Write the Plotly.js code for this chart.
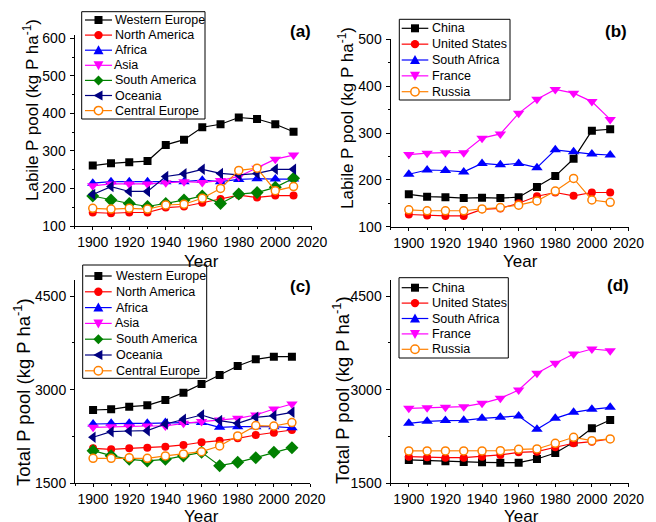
<!DOCTYPE html>
<html><head><meta charset="utf-8">
<script src="https://cdn.plot.ly/plotly-3.0.1.min.js"></script>
<style>html,body{margin:0;padding:0;background:#fff}#chart{width:656px;height:522px}</style>
</head><body><div id="chart"></div><script>
// ---------- DATA ----------
const years = [1900,1910,1920,1930,1940,1950,1960,1970,1980,1990,2000,2010];

const regionNames = ['Western Europe','North America','Africa','Asia','South America','Oceania','Central Europe'];
const countryNames = ['China','United States','South Africa','France','Russia'];

// (a) Labile P pool by region
const labileWesternEurope = [261,267,270,273,316,330,363,371,389,385,371,351];
const labileNorthAmerica  = [136,134,136,136,149,152,162,172,182,176,181,181];
const labileAfrica        = [214,218,218,218,218,218,222,218,224,226,225,225];
const labileAsia          = [207,212,212,212,215,218,216,221,232,254,278,289];
const labileSouthAmerica  = [180,169,160,152,160,169,180,160,185,189,203,227];
const labileOceania       = [184,205,192,192,232,239,251,240,236,240,251,251];
const labileCentralEurope = [147,145,147,145,156,158,174,200,248,254,194,205];

// (b) Labile P pool by country
const labileChina        = [169,164,163,161,162,161,163,185,208,245,305,308];
const labileUnitedStates = [126,124,123,123,137,139,150,165,173,166,173,173];
const labileSouthAfrica  = [212,221,220,217,235,232,235,226,264,260,255,253];
const labileFrance       = [254,257,258,258,289,298,342,372,393,385,367,329];
const labileRussia       = [136,134,134,134,138,141,146,155,176,203,157,152];

// (c) Total P pool by region
const totalWesternEurope = [2674,2685,2728,2749,2835,2952,3091,3235,3379,3486,3528,3528];
const totalNorthAmerica  = [2060,2044,2060,2071,2087,2114,2157,2183,2221,2274,2311,2354];
const totalAfrica        = [2450,2461,2461,2461,2472,2472,2472,2397,2407,2407,2407,2390];
const totalAsia          = [2397,2407,2407,2418,2418,2461,2488,2514,2541,2594,2690,2770];
const totalSouthAmerica  = [2023,1943,1884,1858,1884,1938,1996,1783,1836,1911,1996,2071];
const totalOceania       = [2237,2327,2338,2343,2450,2525,2594,2504,2461,2557,2584,2637];
const totalCentralEurope = [1900,1900,1911,1900,1938,1970,2007,2098,2258,2424,2418,2472];

// (d) Total P pool by country
const totalChina        = [1874,1863,1852,1842,1836,1831,1831,1890,1986,2157,2381,2514];
const totalUnitedStates = [1927,1916,1911,1911,1927,1954,1996,2007,2077,2141,2167,2210];
const totalSouthAfrica  = [2461,2493,2504,2509,2541,2557,2578,2365,2541,2637,2685,2717];
const totalFrance       = [2701,2712,2717,2728,2781,2861,2995,3262,3422,3571,3651,3625];
const totalRussia       = [2018,2018,2018,2018,2018,2023,2044,2050,2141,2237,2183,2210];

// ---------- STYLES ----------
const W = 656, H = 522;
const px = x => x / W, py = y => 1 - y / H;
const regionStyles = [
  {color:'#000000', sym:'square'},
  {color:'#FF0000', sym:'circle'},
  {color:'#0000FF', sym:'triangle-up'},
  {color:'#FF00FF', sym:'triangle-down'},
  {color:'#008000', sym:'diamond'},
  {color:'#000080', sym:'triangle-left'},
  {color:'#FF8000', sym:'circle-open'}
];
const countryStyles = [
  {color:'#000000', sym:'square'},
  {color:'#FF0000', sym:'circle'},
  {color:'#0000FF', sym:'triangle-up'},
  {color:'#FF00FF', sym:'triangle-down'},
  {color:'#FF8000', sym:'circle-open'}
];

const FONT = 'Liberation Sans, Arial, sans-serif';

function makeTrace(name, y, st, xa, ya) {
  const open = st.sym === 'circle-open';
  const tri = st.sym.indexOf('triangle') === 0;
  return {
    type:'scatter', mode:'lines+markers', name:name, x:years, y:y,
    xaxis:xa, yaxis:ya, showlegend:false,
    line:{color:st.color, width:1.2},
    marker:{
      symbol: open ? 'circle' : st.sym,
      size: tri ? 10 : (st.sym === 'diamond' ? 10 : 8),
      color: open ? '#FFFFFF' : st.color,
      line:{color:st.color, width: open ? 1.5 : 0}
    }
  };
}

const traces = [];
const seriesA = [labileWesternEurope,labileNorthAmerica,labileAfrica,labileAsia,labileSouthAmerica,labileOceania,labileCentralEurope];
const seriesB = [labileChina,labileUnitedStates,labileSouthAfrica,labileFrance,labileRussia];
const seriesC = [totalWesternEurope,totalNorthAmerica,totalAfrica,totalAsia,totalSouthAmerica,totalOceania,totalCentralEurope];
const seriesD = [totalChina,totalUnitedStates,totalSouthAfrica,totalFrance,totalRussia];
seriesA.forEach((s,i)=>traces.push(makeTrace(regionNames[i], s, regionStyles[i], 'x', 'y')));
seriesB.forEach((s,i)=>traces.push(makeTrace(countryNames[i], s, countryStyles[i], 'x2', 'y2')));
seriesC.forEach((s,i)=>traces.push(makeTrace(regionNames[i], s, regionStyles[i], 'x3', 'y3')));
seriesD.forEach((s,i)=>traces.push(makeTrace(countryNames[i], s, countryStyles[i], 'x4', 'y4')));

// ---------- LEGENDS (drawn as layout shapes/annotations) ----------
const shapes = [], annotations = [];
function glyph(st, cx, cy) {
  const c = st.color;
  const pathOf = pts => 'M ' + pts.map(p => px(p[0]) + ',' + py(p[1])).join(' L ') + ' Z';
  const base = {xref:'paper', yref:'paper', layer:'above'};
  if (st.sym === 'square') {
    shapes.push(Object.assign({type:'rect', x0:px(cx-4), x1:px(cx+4), y0:py(cy+4), y1:py(cy-4), fillcolor:c, line:{color:c, width:0}}, base));
  } else if (st.sym === 'circle' || st.sym === 'circle-open') {
    const open = st.sym === 'circle-open';
    shapes.push(Object.assign({type:'circle', x0:px(cx-4.2), x1:px(cx+4.2), y0:py(cy+4.2), y1:py(cy-4.2), fillcolor: open ? '#FFFFFF' : c, line:{color:c, width: open ? 1.5 : 0}}, base));
  } else {
    let pts;
    if (st.sym === 'triangle-up') pts = [[cx-5,cy+4],[cx+5,cy+4],[cx,cy-5]];
    else if (st.sym === 'triangle-down') pts = [[cx-5,cy-4],[cx+5,cy-4],[cx,cy+5]];
    else if (st.sym === 'diamond') pts = [[cx,cy-5],[cx+5,cy],[cx,cy+5],[cx-5,cy]];
    else pts = [[cx-5,cy],[cx+4,cy-5],[cx+4,cy+5]];
    shapes.push(Object.assign({type:'path', path:pathOf(pts), fillcolor:c, line:{color:c, width:0}}, base));
  }
}
function addLegend(box, y0, step, lx0, lx1, tx, names, styles) {
  shapes.push({type:'rect', xref:'paper', yref:'paper', layer:'above',
    x0:px(box[0]), x1:px(box[1]), y0:py(box[3]), y1:py(box[2]),
    fillcolor:'#FFFFFF', line:{color:'#000000', width:1}});
  names.forEach((n,i)=>{
    const cy = y0 + i*step;
    const st = styles[i];
    shapes.push({type:'line', xref:'paper', yref:'paper', layer:'above',
      x0:px(lx0), x1:px(lx1), y0:py(cy), y1:py(cy), line:{color:st.color, width:1.2}});
    glyph(st, (lx0+lx1)/2, cy);
    annotations.push({xref:'paper', yref:'paper', x:px(tx), y:py(cy), xanchor:'left', yanchor:'middle',
      text:n, showarrow:false, font:{family:FONT, size:12.5, color:'#000'}, borderpad:0});
  });
}
addLegend([81.7,205,11.7,119], 20, 15.1, 85, 112, 113.5, regionNames, regionStyles);
addLegend([399.3,510,19.3,100], 28.3, 15.85, 401.7, 428.3, 431, countryNames, countryStyles);
addLegend([82.7,206.7,265,378.3], 276, 15.8, 85, 111.7, 114.5, regionNames, regionStyles);
addLegend([399,508.3,277.7,358], 287.7, 15.4, 401.7, 428.3, 431, countryNames, countryStyles);

// panel labels
[['(a)',300,31.7],['(b)',616,31.7],['(c)',300,286],['(d)',618,285]].forEach(p=>{
  annotations.push({xref:'paper', yref:'paper', x:px(p[1]), y:py(p[2]), xanchor:'center', yanchor:'middle',
    text:'<b>'+p[0]+'</b>', showarrow:false, font:{family:FONT, size:17, color:'#000'}});
});
// axis titles
[[201,261],[520,261],[201,516],[521,516]].forEach(p=>{
  annotations.push({xref:'paper', yref:'paper', x:px(p[0]), y:py(p[1]), xanchor:'center', yanchor:'middle',
    text:'Year', showarrow:false, font:{family:FONT, size:17, color:'#000'}, borderpad:0});
});
[['Labile P pool (kg P ha<sup>-1</sup>)',31,110,17],['Labile P pool (kg P ha<sup>-1</sup>)',346,118,17],
 ['Total P pool (kg P ha<sup>-1</sup>)',22,392,18.5],['Total P pool (kg P ha<sup>-1</sup>)',341,390,18.5]].forEach(p=>{
  annotations.push({xref:'paper', yref:'paper', x:px(p[1]), y:py(p[2]), xanchor:'center', yanchor:'middle',
    text:p[0], textangle:-90, showarrow:false, font:{family:FONT, size:p[3], color:'#000'}});
});

// ---------- AXES ----------
function xAxis(dom, anchor) {
  return {domain:dom, anchor:anchor, range:[1890,2020], tick0:1900, dtick:20, tickangle:0,
    ticks:'outside', ticklen:3, tickwidth:1, tickcolor:'#000',
    showline:true, linecolor:'#000', linewidth:1, showgrid:false, zeroline:false,
    minor:{dtick:10, ticks:'outside', ticklen:2, tickcolor:'#000', showgrid:false},
    tickfont:{family:FONT, size:14, color:'#000'}};
}
function yAxis(dom, anchor, range, dtick, mdtick) {
  return {domain:dom, anchor:anchor, range:range, dtick:dtick, tick0:0, tickangle:0,
    ticks:'outside', ticklen:4, tickwidth:1, tickcolor:'#000',
    showline:true, linecolor:'#000', linewidth:1, showgrid:false, zeroline:false,
    minor:{dtick:mdtick, ticks:'outside', ticklen:2, tickcolor:'#000', showgrid:false},
    tickfont:{family:FONT, size:14, color:'#000'}, ticklabelstandoff:1};
}

const layout = {
  width:W, height:H, margin:{l:0,r:0,t:0,b:0},
  paper_bgcolor:'#fff', plot_bgcolor:'rgba(0,0,0,0)',
  showlegend:false, font:{family:FONT, color:'#000'},
  xaxis: xAxis([px(74.5), px(311.8)], 'y'),
  yaxis: yAxis([py(226), py(35.3)], 'x', [100,608], 100, 50),
  xaxis2: xAxis([px(390.5), px(628.5)], 'y2'),
  yaxis2: yAxis([py(226.7), py(39.3)], 'x2', [100,500], 100, 50),
  xaxis3: xAxis([px(75), px(310)], 'y3'),
  yaxis3: yAxis([py(483.3), py(280.4)], 'x3', [1500,4750], 1500, 750),
  xaxis4: xAxis([px(390.5), px(628.5)], 'y4'),
  yaxis4: yAxis([py(483.3), py(280.4)], 'x4', [1500,4750], 1500, 750),
  shapes:shapes, annotations:annotations
};

Plotly.newPlot('chart', traces, layout, {displayModeBar:false, staticPlot:true});
</script></body></html>
